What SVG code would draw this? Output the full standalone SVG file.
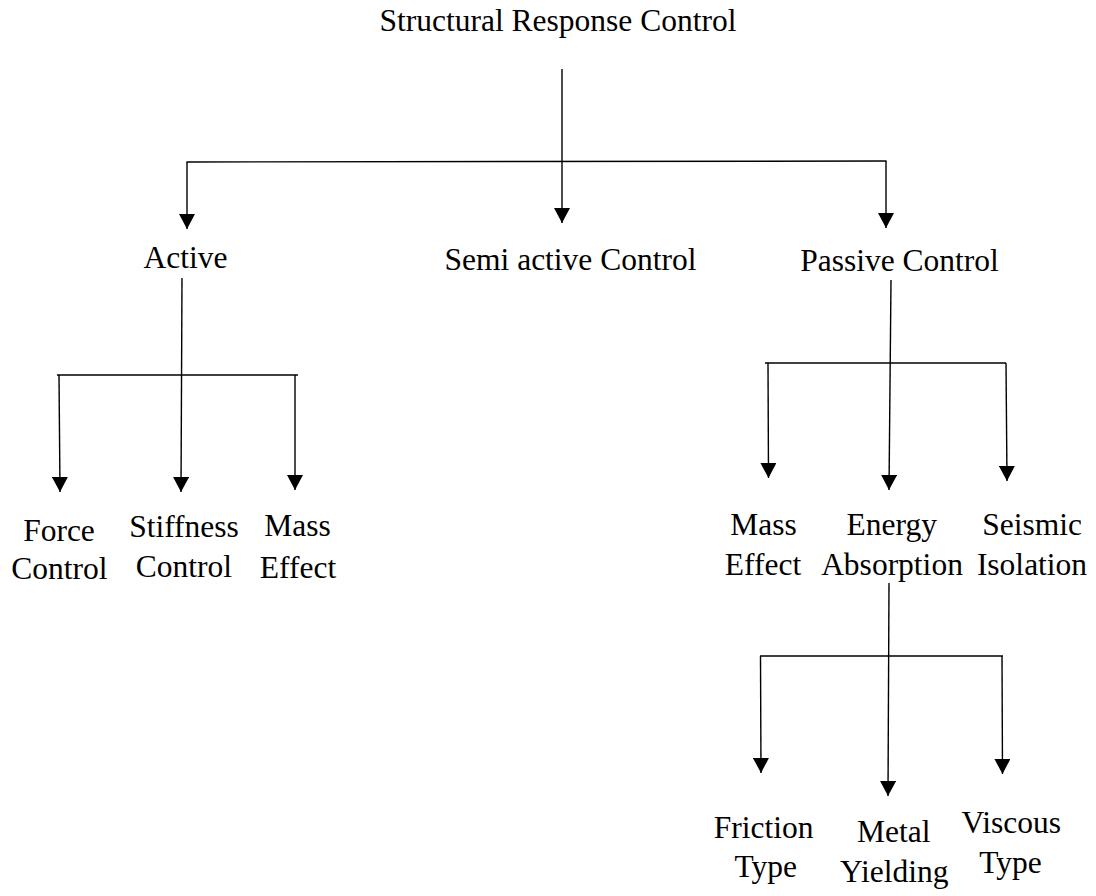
<svg xmlns="http://www.w3.org/2000/svg" width="1096" height="896" viewBox="0 0 1096 896">
<style>
.t{font-family:"Liberation Serif","Times New Roman",serif;font-size:31.5px;fill:#000;text-anchor:middle}
.c line{stroke:#000;stroke-width:1.4;fill:none}
.c line.a{marker-end:url(#ah)}
</style>
<defs>
<marker id="ah" markerUnits="userSpaceOnUse" viewBox="0 0 15 16" refX="15" refY="8" markerWidth="15" markerHeight="16" orient="auto">
<path d="M0,0 L15,8 L0,16 Z" fill="#000"/>
</marker>
</defs>
<rect width="1096" height="896" fill="#fff"/>
<g class="c" id="connectors">
<line class="a" x1="562" y1="69" x2="562" y2="223"/>
<line x1="186.5" y1="162" x2="886.5" y2="161"/>
<line class="a" x1="187" y1="162" x2="187" y2="229"/>
<line class="a" x1="886" y1="161" x2="886" y2="228"/>
<line class="a" x1="182" y1="278" x2="181" y2="492"/>
<line x1="57" y1="375" x2="298" y2="375"/>
<line class="a" x1="59" y1="375" x2="60" y2="492"/>
<line class="a" x1="295" y1="375" x2="295" y2="490"/>
<line class="a" x1="891" y1="280" x2="889" y2="490"/>
<line x1="765" y1="363" x2="1006" y2="363"/>
<line class="a" x1="768" y1="363" x2="768.5" y2="478"/>
<line class="a" x1="1006" y1="363" x2="1007" y2="481"/>
<line class="a" x1="889" y1="583" x2="888" y2="796"/>
<line x1="760" y1="656" x2="1003" y2="656"/>
<line class="a" x1="760.5" y1="656" x2="761" y2="773"/>
<line class="a" x1="1002" y1="656" x2="1002.5" y2="774"/>
</g>
<g id="root"><text class="t" x="558" y="31">Structural Response Control</text></g>
<g id="active"><text class="t" x="185.5" y="268">Active</text></g>
<g id="semi"><text class="t" x="570.5" y="270">Semi active Control</text></g>
<g id="passive"><text class="t" x="899.5" y="271">Passive Control</text></g>
<g id="force"><text class="t" x="59" y="541">Force</text><text class="t" x="59.5" y="579">Control</text></g>
<g id="stiffness"><text class="t" x="184" y="537">Stiffness</text><text class="t" x="184" y="577">Control</text></g>
<g id="mass1"><text class="t" x="297.5" y="536">Mass</text><text class="t" x="298" y="578">Effect</text></g>
<g id="mass2"><text class="t" x="763.5" y="535">Mass</text><text class="t" x="763" y="575">Effect</text></g>
<g id="energy"><text class="t" x="891.7" y="535">Energy</text><text class="t" x="892" y="575">Absorption</text></g>
<g id="seismic"><text class="t" x="1032" y="535">Seismic</text><text class="t" x="1032" y="575">Isolation</text></g>
<g id="friction"><text class="t" x="763.7" y="838">Friction</text><text class="t" x="765.8" y="877">Type</text></g>
<g id="metal"><text class="t" x="893.8" y="841.7">Metal</text><text class="t" x="894.2" y="881.7">Yielding</text></g>
<g id="viscous"><text class="t" x="1011.3" y="832.7">Viscous</text><text class="t" x="1010.5" y="872.7">Type</text></g>
</svg>
